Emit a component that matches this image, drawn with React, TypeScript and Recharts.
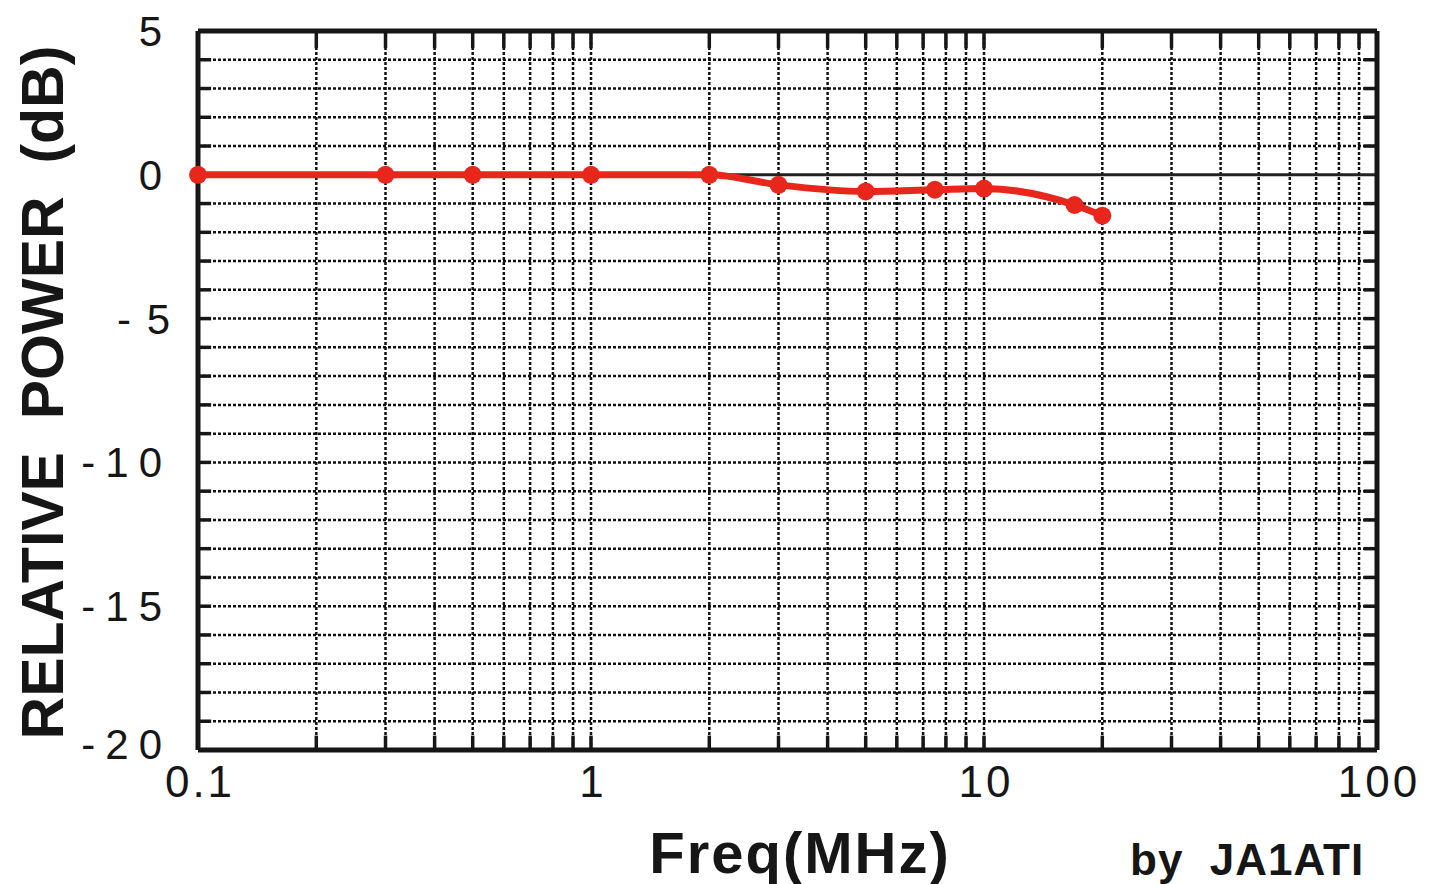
import { LineChart, Line, XAxis, YAxis, ReferenceLine } from "recharts";

const freqs = [0.1, 0.3, 0.5, 1, 2, 3, 5, 7.5, 10, 17, 20];
const power = [0, 0, 0, 0, 0, -0.35, -0.58, -0.52, -0.48, -1.05, -1.42];

const xTicks = [0.1, 1, 10, 100];
const xGrid = [
  0.2, 0.3, 0.4, 0.5, 0.6, 0.7, 0.8, 0.9, 1,
  2, 3, 4, 5, 6, 7, 8, 9, 10,
  20, 30, 40, 50, 60, 70, 80, 90,
];
const yTicks = [-20, -15, -10, -5, 0, 5];
const yTickText: Record<number, string> = { 5: "5", 0: "0", "-5": "- 5", "-10": "-10", "-15": "-15", "-20": "-20" };
const yGrid = [-19, -18, -17, -16, -15, -14, -13, -12, -11, -10, -9, -8, -7, -6, -5, -4, -3, -2, -1, 1, 2, 3, 4];

const data = freqs.map((f, i) => ({ f, p: power[i] }));

const FONT = "'Liberation Sans', Arial, sans-serif";
const INK = "#161616";
const RED = "#e8261c";

// extent of the inward frame ticks, in axis units
const X_MIN = 0.1;
const X_MAX = 100;
const Y_MIN = -20;
const Y_MAX = 5;
const TICK_DB = 0.5;
const TICK_X_LO = 0.108;
const TICK_X_HI = 92.5;

function XTick({ x, y, payload }: any) {
  return (
    <text x={x + 2} y={y + 47} textAnchor="middle" fontSize={44} letterSpacing={3} fill={INK} fontFamily={FONT}>
      {String(payload.value)}
    </text>
  );
}

function YTick({ x, y, payload }: any) {
  const v = payload.value as number;
  return (
    <text
      x={x}
      y={y + 15 - (v === -20 ? 6 : 0)}
      textAnchor="end"
      fontSize={42}
      letterSpacing={v === -5 ? 2 : 10}
      fill={INK}
      fontFamily={FONT}
    >
      {yTickText[v]}
    </text>
  );
}

function YTitle({ viewBox }: any) {
  const cx = 42;
  const cy = viewBox.y + viewBox.height / 2 + 2;
  return (
    <text
      x={cx}
      y={cy}
      dy={21}
      transform={`rotate(-90, ${cx}, ${cy})`}
      textAnchor="middle"
      fontSize={59}
      fontWeight="bold"
      fill={INK}
      fontFamily={FONT}
      style={{ whiteSpace: "pre" }}
    >
      {"RELATIVE  POWER  (dB)"}
    </text>
  );
}

function XTitle({ viewBox }: any) {
  return (
    <g fontFamily={FONT} fontWeight="bold" fill={INK}>
      <text x={viewBox.x + 602} y={viewBox.y + 123} textAnchor="middle" fontSize={58} letterSpacing={2}>
        Freq(MHz)
      </text>
      <text x={viewBox.x + 932} y={viewBox.y + 125} fontSize={44} letterSpacing={1} style={{ whiteSpace: "pre" }}>
        {"by  JA1ATI"}
      </text>
    </g>
  );
}

export default function App() {
  return (
    <div style={{ position: "absolute", left: 0, top: 0, background: "#fff" }}>
      <LineChart width={1435} height={884} data={data} margin={{ top: 31, right: 58, bottom: 84, left: 0 }}>
        <XAxis
          dataKey="f"
          type="number"
          scale="log"
          domain={[X_MIN, X_MAX]}
          ticks={xTicks}
          height={50}
          tickSize={0}
          tickMargin={0}
          tickLine={false}
          axisLine={false}
          tick={<XTick />}
          label={{ content: <XTitle /> }}
        />
        <YAxis
          type="number"
          domain={[Y_MIN, Y_MAX]}
          ticks={yTicks}
          width={198}
          tickSize={0}
          tickMargin={26}
          tickLine={false}
          axisLine={false}
          tick={<YTick />}
          label={{ content: <YTitle /> }}
        />

        {/* dotted grid */}
        {xGrid.map((v) => (
          <ReferenceLine key={`vx${v}`} x={v} stroke="#111" strokeWidth={2.5} strokeDasharray="3 2" />
        ))}
        {yGrid.map((v) => (
          <ReferenceLine key={`hy${v}`} y={v} stroke="#111" strokeWidth={2.5} strokeDasharray="3 2" />
        ))}
        <ReferenceLine y={0} stroke="#222" strokeWidth={3} />

        {/* short inward tick marks on the frame */}
        {xGrid.map((v) => (
          <ReferenceLine key={`tb${v}`} segment={[{ x: v, y: Y_MIN }, { x: v, y: Y_MIN + TICK_DB }]} stroke={INK} strokeWidth={3.5} />
        ))}
        {xGrid.map((v) => (
          <ReferenceLine key={`tt${v}`} segment={[{ x: v, y: Y_MAX }, { x: v, y: Y_MAX - TICK_DB - 0.1 }]} stroke={INK} strokeWidth={3.5} />
        ))}
        {yGrid.map((v) => (
          <ReferenceLine key={`tl${v}`} segment={[{ x: X_MIN, y: v }, { x: TICK_X_LO, y: v }]} stroke={INK} strokeWidth={3.5} />
        ))}
        {yGrid.map((v) => (
          <ReferenceLine key={`tr${v}`} segment={[{ x: TICK_X_HI, y: v }, { x: X_MAX, y: v }]} stroke={INK} strokeWidth={3.5} />
        ))}

        {/* frame */}
        <ReferenceLine x={X_MIN} stroke={INK} strokeWidth={5} />
        <ReferenceLine x={X_MAX} stroke={INK} strokeWidth={5} />
        <ReferenceLine y={Y_MIN} stroke={INK} strokeWidth={5} />
        <ReferenceLine y={Y_MAX} stroke={INK} strokeWidth={5} />

        <Line
          type="monotone"
          dataKey="p"
          stroke={RED}
          strokeWidth={7}
          dot={{ r: 9, fill: RED, stroke: "none" }}
          activeDot={false}
          isAnimationActive={false}
        />
      </LineChart>
    </div>
  );
}
